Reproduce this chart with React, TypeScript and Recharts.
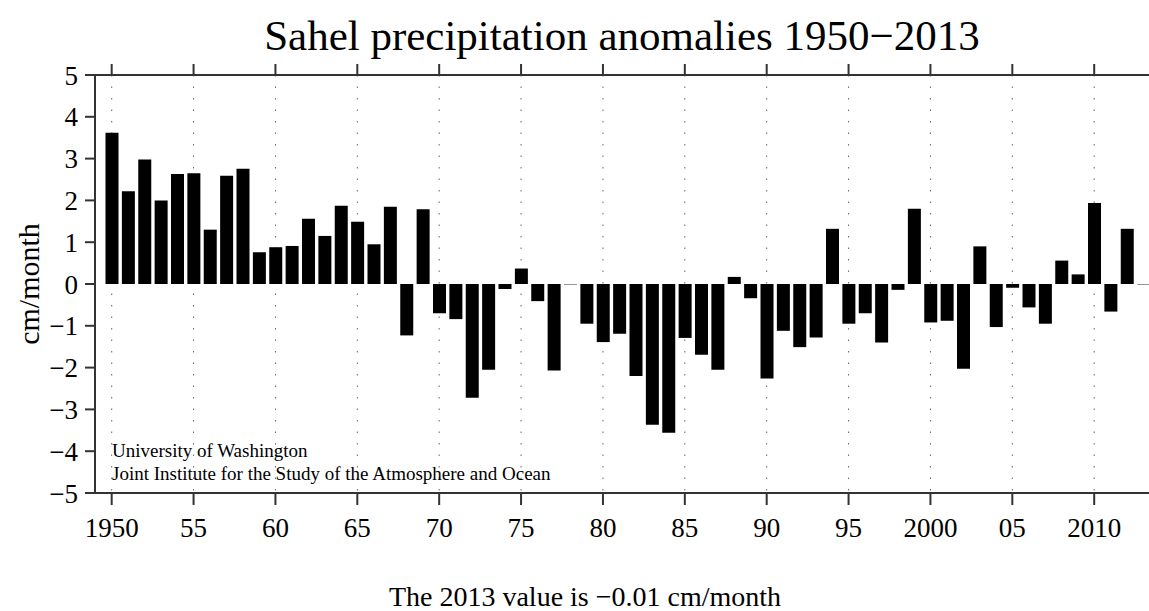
import React from "react";
import { BarChart, Bar, XAxis, YAxis, CartesianGrid } from "recharts";

// Sahel precipitation anomalies, cm/month
const years = [
  1950, 1951, 1952, 1953, 1954, 1955, 1956, 1957, 1958, 1959,
  1960, 1961, 1962, 1963, 1964, 1965, 1966, 1967, 1968, 1969,
  1970, 1971, 1972, 1973, 1974, 1975, 1976, 1977, 1978, 1979,
  1980, 1981, 1982, 1983, 1984, 1985, 1986, 1987, 1988, 1989,
  1990, 1991, 1992, 1993, 1994, 1995, 1996, 1997, 1998, 1999,
  2000, 2001, 2002, 2003, 2004, 2005, 2006, 2007, 2008, 2009,
  2010, 2011, 2012, 2013,
];

const anomalies = [
  3.62, 2.22, 2.98, 2.0, 2.63, 2.65, 1.3, 2.59, 2.76, 0.76,
  0.88, 0.91, 1.56, 1.15, 1.87, 1.49, 0.95, 1.85, -1.23, 1.79,
  -0.7, -0.84, -2.72, -2.05, -0.12, 0.37, -0.41, -2.07, -0.01, -0.95,
  -1.39, -1.19, -2.2, -3.37, -3.56, -1.29, -1.69, -2.05, 0.17, -0.34,
  -2.26, -1.12, -1.51, -1.28, 1.32, -0.95, -0.7, -1.4, -0.14, 1.8,
  -0.92, -0.88, -2.03, 0.9, -1.03, -0.09, -0.56, -0.95, 0.56, 0.23,
  1.94, -0.66, 1.32, -0.01,
];

const tickYears = [1950, 1955, 1960, 1965, 1970, 1975, 1980, 1985, 1990, 1995, 2000, 2005, 2010];
const tickLabels = ["1950", "55", "60", "65", "70", "75", "80", "85", "90", "95", "2000", "05", "2010"];
const yTicks = [-5, -4, -3, -2, -1, 0, 1, 2, 3, 4, 5];

const data = years.map((year, i) => ({ year, value: anomalies[i] }));

const FONT = "Liberation Serif, Times New Roman, serif";

const fmtYear = (y: number) => {
  const i = tickYears.indexOf(Number(y));
  return i >= 0 ? tickLabels[i] : "";
};

const fmtY = (v: number) => (v < 0 ? "\u2212" + Math.abs(v) : String(v));

export default function App() {
  return (
    <div
      style={{
        position: "fixed",
        left: 0,
        top: 0,
        width: 1149,
        height: 611,
        overflow: "hidden",
        background: "#fff",
      }}
    >
      <div style={{ position: "absolute", left: 0, top: 0 }}>
        <BarChart
          width={1160}
          height={611}
          data={data}
          margin={{ top: 74, right: 0, left: 35, bottom: 78 }}
          barSize={13}
        >
          <CartesianGrid
            horizontal={false}
            stroke="#666"
            strokeDasharray="1.5 10"
          />
          <XAxis
            dataKey="year"
            interval={4}
            padding={{ left: 8.5, right: 8.5 }}
            height={40}
            tickSize={12}
            tickMargin={13}
            tickFormatter={fmtYear}
            tick={{ fontSize: 27, fill: "#000", fontFamily: FONT }}
            axisLine={{ stroke: "#333", strokeWidth: 2 }}
            tickLine={{ stroke: "#333", strokeWidth: 2 }}
          />
          <XAxis
            xAxisId="top"
            orientation="top"
            dataKey="year"
            interval={4}
            padding={{ left: 8.5, right: 8.5 }}
            height={1}
            tickSize={11}
            tickFormatter={() => ""}
            tick={{ fontSize: 1 }}
            axisLine={{ stroke: "#333", strokeWidth: 2 }}
            tickLine={{ stroke: "#333", strokeWidth: 2 }}
          />
          <YAxis
            width={60}
            domain={[-5, 5]}
            ticks={yTicks}
            interval={0}
            tickSize={10}
            tickMargin={7}
            tickFormatter={fmtY}
            tick={{ fontSize: 27, fill: "#000", fontFamily: FONT }}
            axisLine={{ stroke: "#333", strokeWidth: 2 }}
            tickLine={{ stroke: "#333", strokeWidth: 2 }}
          />
          <Bar dataKey="value" fill="#000" isAnimationActive={false} />
        </BarChart>
      </div>
      <svg
        width={1149}
        height={611}
        style={{ position: "absolute", left: 0, top: 0, pointerEvents: "none" }}
      >
        <g fontFamily={FONT} fill="#000">
          <text x={622} y={50} fontSize={43} textAnchor="middle">
            Sahel precipitation anomalies 1950{"\u2212"}2013
          </text>
          <text
            transform="translate(39,284) rotate(-90)"
            fontSize={30}
            textAnchor="middle"
          >
            cm/month
          </text>
          <text x={112} y={457} fontSize={19}>
            University of Washington
          </text>
          <text x={112} y={480} fontSize={19}>
            Joint Institute for the Study of the Atmosphere and Ocean
          </text>
          <text x={585} y={606} fontSize={28} textAnchor="middle">
            The 2013 value is {"\u2212"}0.01 cm/month
          </text>
        </g>
      </svg>
    </div>
  );
}
